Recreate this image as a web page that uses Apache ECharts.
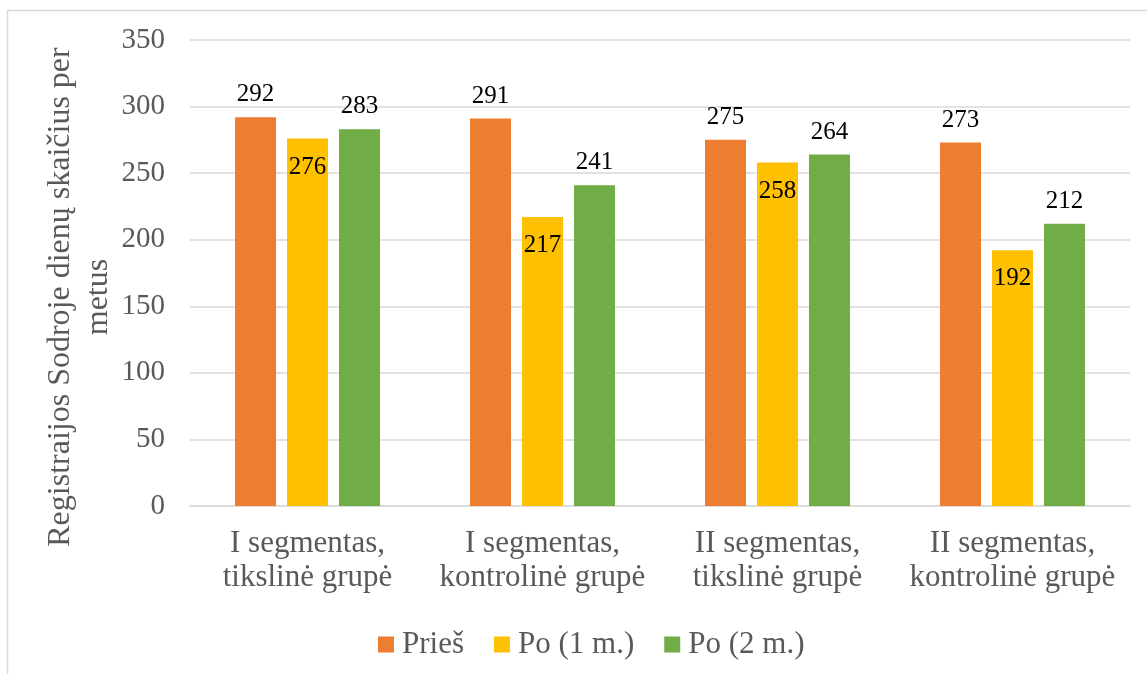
<!DOCTYPE html>
<html>
<head>
<meta charset="utf-8">
<script src="https://cdn.jsdelivr.net/npm/echarts@6/dist/echarts.min.js"></script>
<style>
html,body{margin:0;padding:0;background:#fff;}
#chart{width:1147px;height:674px;}
</style>
</head>
<body>
<div id="chart"></div>
<script>
const categories = ['I segmentas,\ntikslinė grupė', 'I segmentas,\nkontrolinė grupė', 'II segmentas,\ntikslinė grupė', 'II segmentas,\nkontrolinė grupė'];
const seriesNames = ['Prieš', 'Po (1 m.)', 'Po (2 m.)'];
const valuesPries = [292, 291, 275, 273];
const valuesPo1 = [276, 217, 258, 192];
const valuesPo2 = [283, 241, 264, 212];
const yAxisTitle = 'Registraijos Sodroje dienų skaičius per\nmetus';

const FONT = "'Liberation Serif', 'Times New Roman', serif";
const GREY = '#595959';

const chart = echarts.init(document.getElementById('chart'));

function barSeries(name, data, color, pos, dist) {
  return {
    name: name,
    type: 'bar',
    data: data,
    barWidth: 41,
    barGap: '26.8%',
    itemStyle: { color: color },
    label: {
      show: true,
      position: pos,
      distance: dist,
      color: '#000',
      fontFamily: FONT,
      fontSize: 25
    }
  };
}

chart.setOption({
  animation: false,
  backgroundColor: '#fff',
  color: ['#ED7D31', '#FFC000', '#70AD47'],
  grid: { left: 190, right: 17, top: 40, bottom: 168, containLabel: false },
  graphic: [
    {
      type: 'rect',
      shape: { x: 7.5, y: 10.5, width: 2000, height: 2000 },
      style: { fill: 'none', stroke: '#D9D9D9', lineWidth: 1.5 },
      silent: true, z: -10
    },
    {
      type: 'text',
      x: 80, y: 297,
      rotation: Math.PI / 2,
      style: {
        text: yAxisTitle,
        fill: GREY,
        fontFamily: FONT,
        fontSize: 32,
        lineHeight: 38,
        align: 'center',
        verticalAlign: 'middle'
      }
    }
  ],
  legend: {
    left: 373,
    top: 624,
    itemWidth: 16,
    itemHeight: 16,
    itemGap: 30,
    icon: 'rect',
    data: seriesNames,
    textStyle: { color: GREY, fontFamily: FONT, fontSize: 31, padding: [0, 0, 0, 3] }
  },
  xAxis: {
    type: 'category',
    data: categories,
    axisLine: { lineStyle: { color: '#D9D9D9', width: 1.5 } },
    axisTick: { show: false },
    axisLabel: {
      color: GREY,
      fontFamily: FONT,
      fontSize: 31,
      lineHeight: 34,
      margin: 21,
      interval: 0
    }
  },
  yAxis: {
    type: 'value',
    min: 0,
    max: 350,
    interval: 50,
    axisLine: { show: false },
    axisTick: { show: false },
    splitLine: { lineStyle: { color: '#D9D9D9', width: 1.5 } },
    axisLabel: { color: GREY, fontFamily: FONT, fontSize: 29, margin: 25 }
  },
  series: [
    barSeries(seriesNames[0], valuesPries, '#ED7D31', 'top', 10),
    barSeries(seriesNames[1], valuesPo1, '#FFC000', 'insideTop', 16),
    barSeries(seriesNames[2], valuesPo2, '#70AD47', 'top', 10)
  ]
});
</script>
</body>
</html>
